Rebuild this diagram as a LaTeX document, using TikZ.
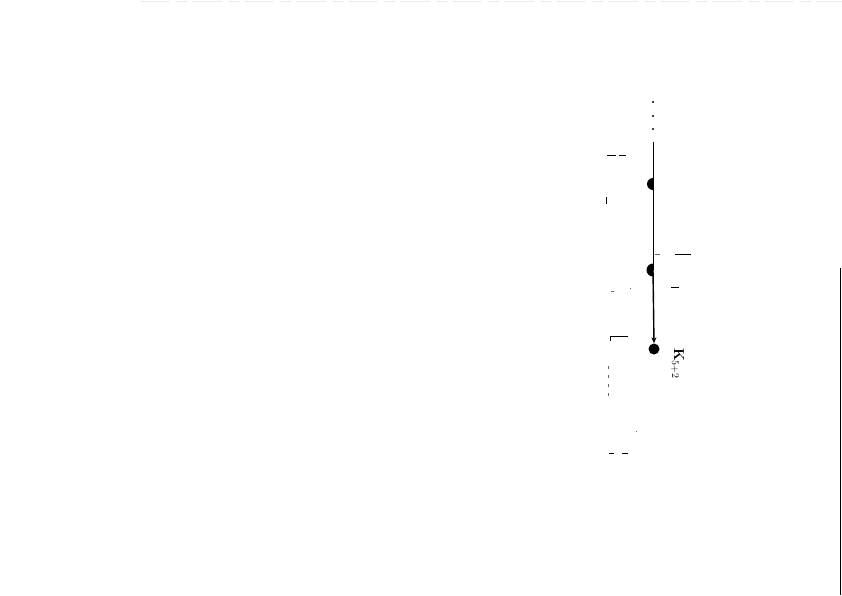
\documentclass[tikz,border=0pt]{standalone}
\usetikzlibrary{arrows.meta}
\begin{document}
\begin{tikzpicture}[x=1pt,y=-1pt,
  tick/.style={black,line width=0.6pt},
  faint/.style={black!60,line width=0.5pt},
  vline/.style={black,line width=1pt},
  smalldot/.style={circle,fill=black,inner sep=0pt,minimum size=2.4pt},
  bigdot/.style={circle,fill=black,inner sep=0pt,minimum size=11pt}]
\useasboundingbox (0,0) rectangle (842,595);
\fill[white] (0,0) rectangle (842,595);
% faint top edge
\draw[black!8,line width=0.4pt,dash pattern=on 30pt off 6pt on 12pt off 4pt] (140,1) -- (842,1);
% right border
\draw[black,line width=0.8pt] (840.5,268) -- (840.5,595);
% top dots
\node[smalldot] (d1) at (653,102) {};
\node[smalldot] (d2) at (653,116) {};
\node[smalldot] (d3) at (653,129) {};
% line nodes
\coordinate (a) at (653,142);
\coordinate (h1) at (653,184);
\coordinate (h2) at (653,270);
\node[bigdot] (e) at (654,349) {};
\draw[vline,line width=0.8pt] (a) -- (h1);
\draw[vline] (h1) -- (h2);
\draw[black,line width=1.4pt,-{Stealth[length=6pt,width=5pt]}] (h2) -- (e.north);
% half dots
\begin{scope}
\clip (h1) ++(-9,-9) rectangle ++(9,18);
\fill (h1) circle[radius=6pt];
\end{scope}
\begin{scope}
\clip (h2) ++(-9,-9) rectangle ++(9,18);
\fill (h2) circle[radius=6.5pt];
\end{scope}
% label
\node[rotate=-90,anchor=south west,font=\bfseries\Large,inner sep=0pt] (lab) at (671,348) {K$_{5+2}$};
% ticks
\draw[tick] (607,155) -- (616,155) (619,155) -- (626,155);
\draw[tick] (606,197) -- (606,204);
\draw[faint] (655,254) -- (660,254);
\draw[tick] (675,254) -- (691,254);
\draw[tick] (671,287) -- (679,287);
\draw[faint] (611,291) -- (614,291);
\draw[tick] (628,336) -- (610,336) -- (610,341);
\draw[faint,dash pattern=on 3pt off 6pt] (608,366) -- (608,396);
\draw[faint] (630,288) -- (630,289);
\draw[faint] (636,431) -- (636,432);
\draw[tick] (609,453) -- (614,453) (622,453) -- (628,453);
\end{tikzpicture}
\end{document}
